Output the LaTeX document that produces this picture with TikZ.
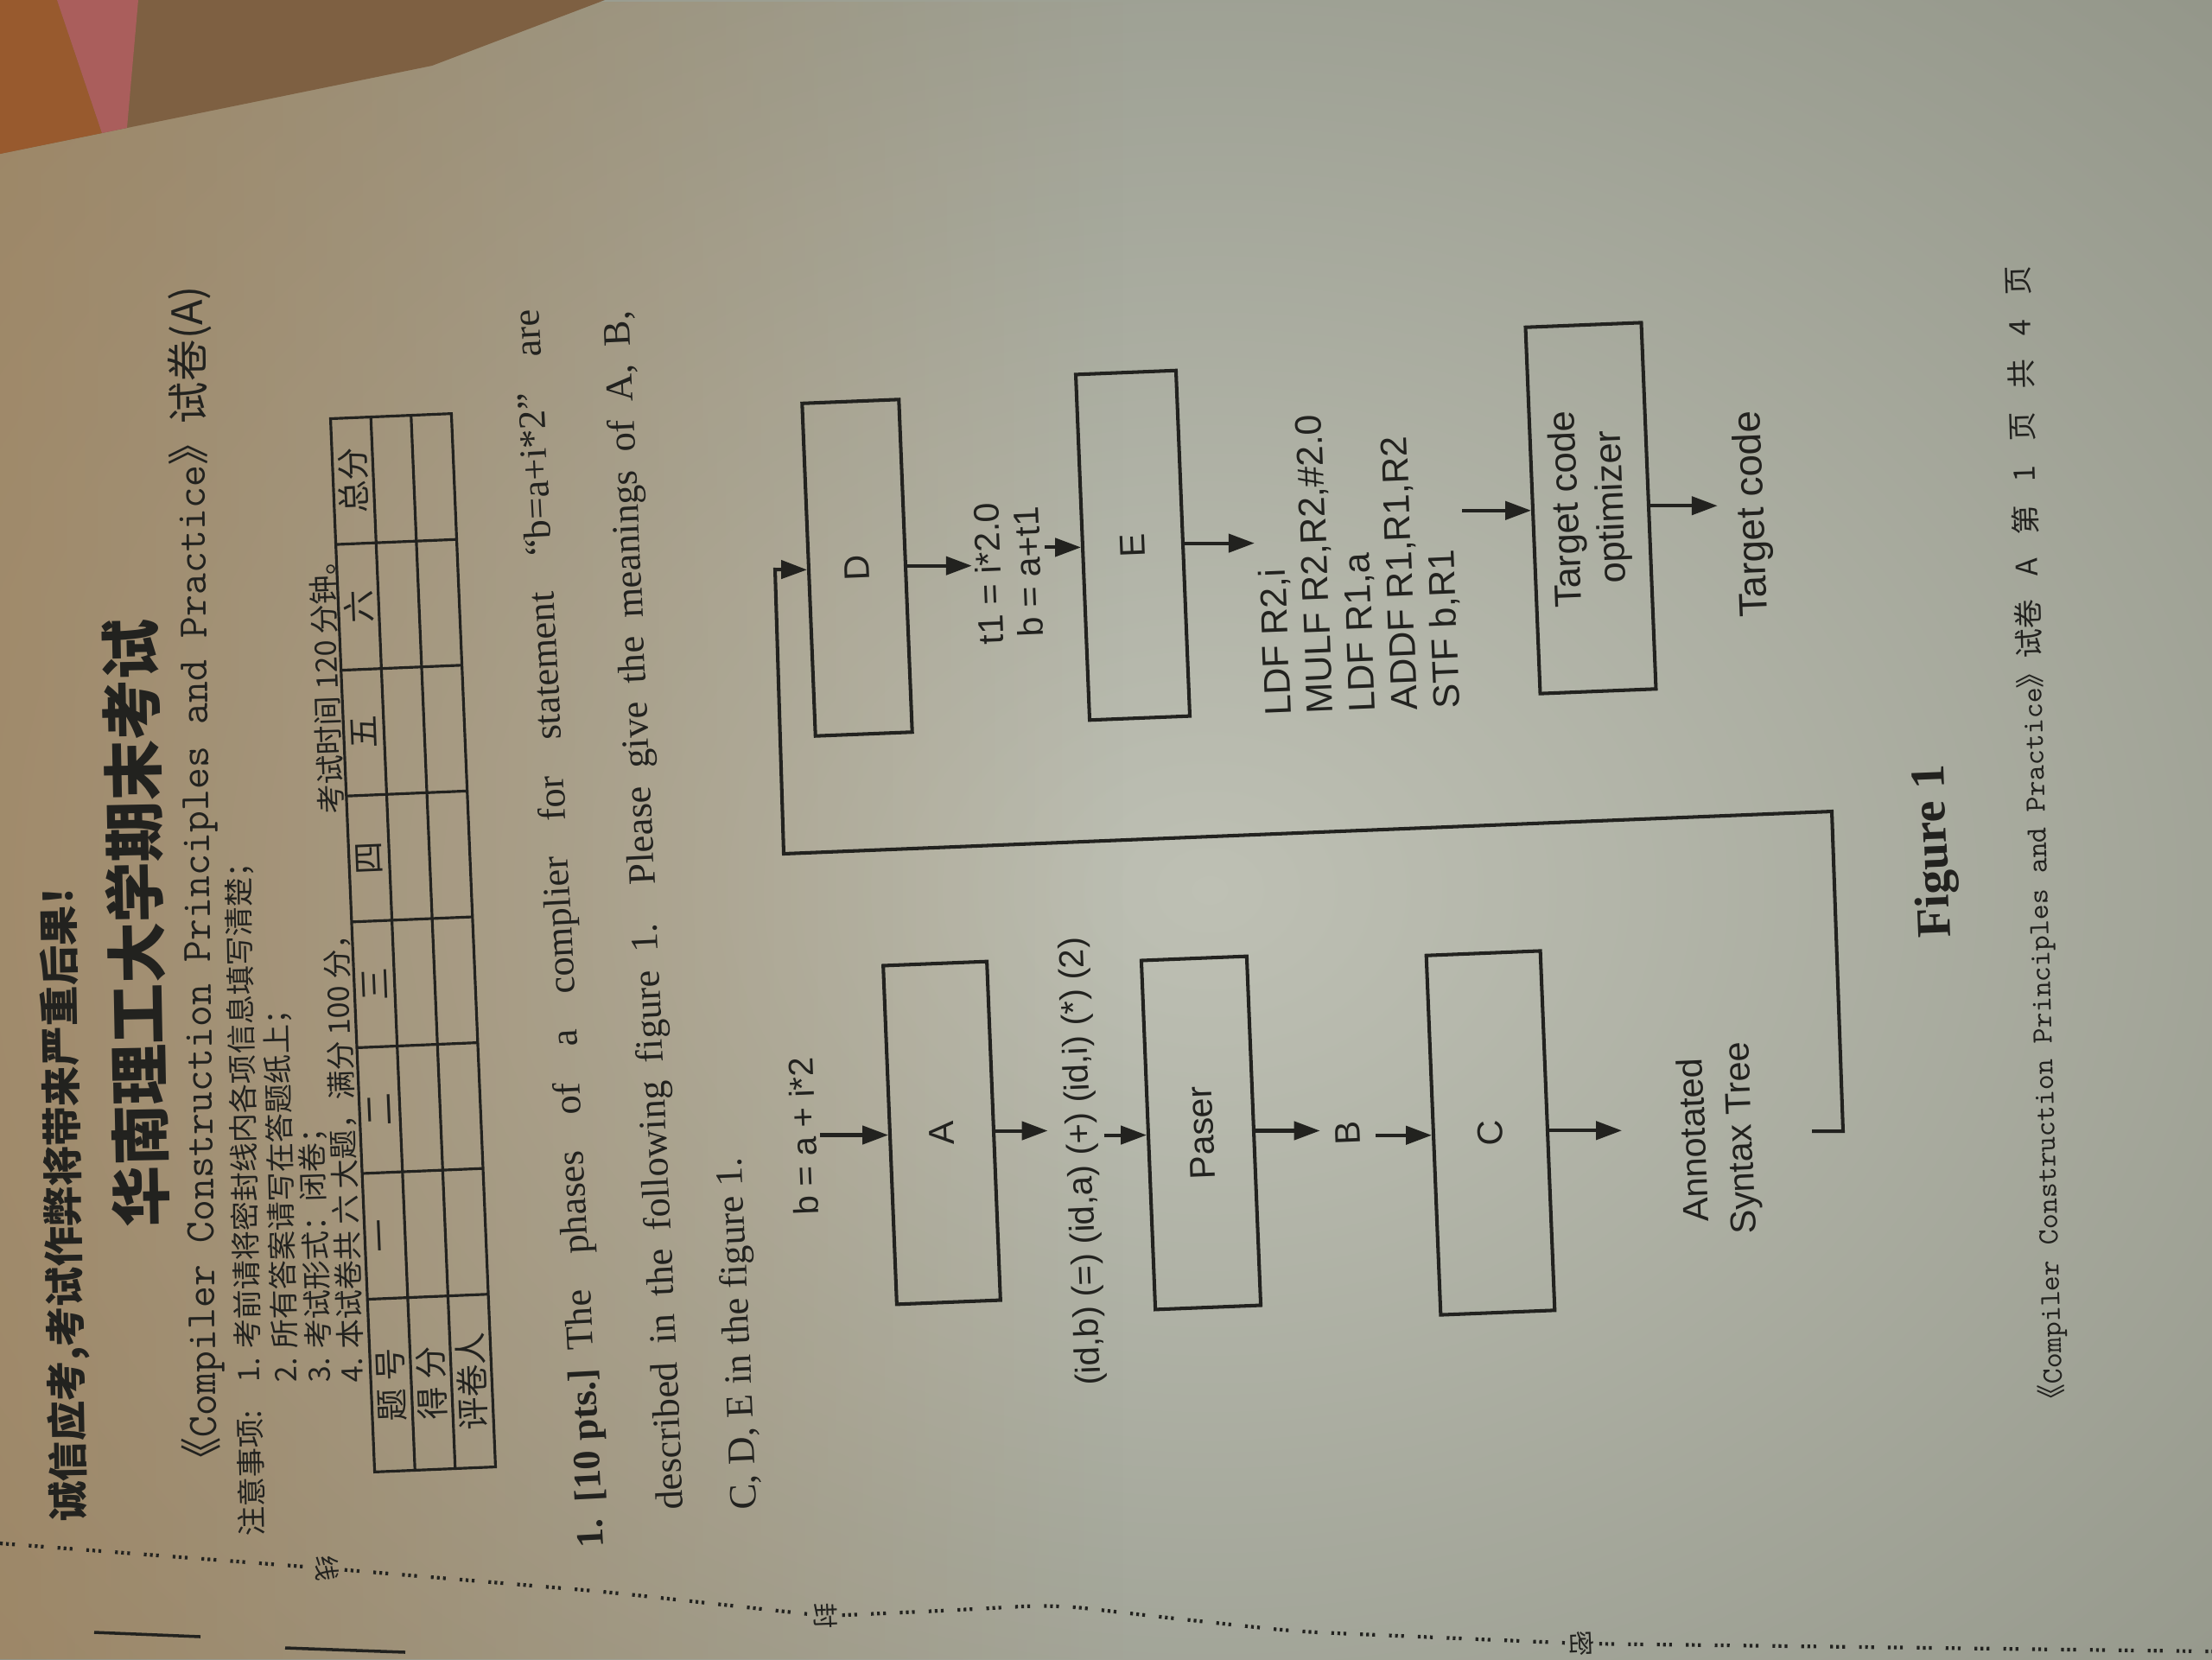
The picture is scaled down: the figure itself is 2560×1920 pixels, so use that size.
\documentclass[tikz,border=0pt]{standalone}
\usepackage{fontspec}
\setmainfont{Liberation Serif}
\newfontfamily\diagsans{Liberation Sans}
\newfontfamily\cjk{Noto Sans CJK SC}
\usetikzlibrary{arrows.meta,fadings}

\definecolor{ink}{RGB}{34,34,31}
\definecolor{paperlight}{RGB}{190,192,180}
\definecolor{paperdark}{RGB}{98,102,88}
\definecolor{warmtone}{RGB}{164,126,82}
\definecolor{cornerbrown}{RGB}{126,96,66}
\definecolor{cornerorange}{RGB}{152,90,46}
\definecolor{cornerpink}{RGB}{170,94,92}

\tikzfading[name=warmfade, left color=transparent!0, right color=transparent!100]

\newcommand\fsz[2]{\fontsize{#1pt}{#2pt}\selectfont}

\begin{document}
\begin{tikzpicture}[x=0.01cm, y=-0.01cm,
  pg/.style={rotate=#1, inner sep=1pt, text=ink}, pg/.default=92.3,
  stagebox/.style 2 args={pg, draw=ink, line width=1.15pt, minimum width=#1, minimum height=#2,
    inner sep=0pt, font=\diagsans\fsz{11.7}{14}},
  lbl/.style={pg, font=\diagsans\fsz{11.7}{14}},
  arr/.style={draw=ink, line width=1.15pt, -{Triangle[length=8.5pt,width=6pt]}},
  tbl/.style={draw=ink, line width=0.9pt},
  note/.style={pg=#1, anchor=west, font=\cjk\fsz{9.7}{12}}, note/.default=91.2,
  cell/.style={pg=92.4, font=\cjk\fsz{10.8}{13}},
  qline/.style={pg=#1, anchor=west, inner sep=0pt, font=\fsz{12.7}{15}}, qline/.default=92.6,
  sealchar/.style={rotate=-87.7, inner sep=1.5pt, text=ink, font=\cjk\fsz{8.5}{10}},
  sealline/.style={draw=ink, line width=1.2pt, rounded corners=10pt,
    dash pattern=on 0.9pt off 1.1pt on 0.9pt off 1.1pt on 0.9pt off 4.6pt}]

% ---------- paper and surroundings ----------
\useasboundingbox (0,0) rectangle (2560,1920);
\begin{scope}
  \clip (0,0) rectangle (2560,1920);
  \fill[paperdark] (0,0) rectangle (2560,1920);
  \shade[inner color=paperlight, outer color=paperdark] (1400,1030) ellipse[x radius=38cm, y radius=30cm];
  \fill[warmtone, path fading=warmfade, fill opacity=0.6] (0,0) rectangle (1300,1920);
  % desk beyond the sheet
  \fill[cornerbrown] (0,0) -- (700,0) -- (500,76) -- (0,178) -- cycle;
  \fill[cornerorange] (0,0) -- (66,0) -- (118,154) -- (0,178) -- cycle;
  \fill[cornerpink] (66,0) -- (160,0) -- (147,148) -- (118,154) -- cycle;
\end{scope}

% ---------- header ----------
\node[pg=91, anchor=west, font=\cjk\bfseries\fsz{13.2}{15}] (warn) at (82,1765)
  {诚信应考,考试作弊将带来严重后果！};
\node[pg=91.1, font=\cjk\bfseries\fsz{20}{24}] (title) at (157,1068) {华南理工大学期末考试};
\node[pg=90.7, anchor=west, font=\fsz{13.8}{16}] (course) at (236,1716)
  {{\cjk 《}{\ttfamily Compiler Construction Principles and Practice}{\cjk 》试卷(A)}};
\node[note] (notehead) at (292,1782) {注意事项:};
\node[note] (note1) at (289,1604) {1. 考前请将密封线内各项信息填写清楚；};
\node[note=91.5] (note2) at (332,1604) {2. 所有答案请写在答题纸上；};
\node[note=91.8] (note3) at (371,1604) {3. 考试形式：闭卷；};
\node[note=92.1] (note4) at (408,1604) {4. 本试卷共 六 大题，满分 100 分，\hspace{3.6em}考试时间 120 分钟。};

% ---------- score table ----------
\begin{scope}[shift={(478,1091)}, rotate=2.4]
  \draw[tbl] (-70,-610) rectangle (70,610);
  \draw[tbl] (-23.3,-610) -- (-23.3,610);
  \draw[tbl] (23.3,-610) -- (23.3,610);
  \foreach \yy in {410,264.3,118.6,-27.1,-172.9,-318.6,-464.3}
    \draw[tbl] (-70,\yy) -- (70,\yy);
  \node[cell] (hq) at (-46.7,510) {题 号};
  \node[cell] (hs) at (0,510) {得 分};
  \node[cell] (hr) at (46.7,510) {评卷人};
  \node[cell] (c1) at (-46.7,337.2) {一};
  \node[cell] (c2) at (-46.7,191.5) {二};
  \node[cell] (c3) at (-46.7,45.8) {三};
  \node[cell] (c4) at (-46.7,-100) {四};
  \node[cell] (c5) at (-46.7,-245.7) {五};
  \node[cell] (c6) at (-46.7,-391.5) {六};
  \node[cell] (c7) at (-46.7,-537.2) {总分};
\end{scope}

% ---------- question ----------
\node[qline=93] (q1) at (688,1792)
  {\makebox[14.34cm][s]{\textbf{1.}\hspace{0.45em}\textbf{[10\hspace{0.25em}pts.]}\hspace{0.5em}The phases of a complier for statement “b=a+i*2” are}};
\node[qline] (q2) at (780,1748)
  {\makebox[13.88cm][s]{described in the following figure 1. Please give the meanings of A, B,}};
\node[qline=92.5] (q3) at (865,1748) {C, D, E in the figure 1.};

% ---------- figure 1: front end chain ----------
\node[lbl, font=\diagsans\fsz{11.4}{14}] (in1) at (930,1315) {b = a + i*2};
\node[stagebox={3.92cm}{1.20cm}] (A) at (1090,1311) {A};
\node[lbl, font=\diagsans\fsz{11.4}{14}, inner sep=1.5pt] (tok) at (1253,1344)
  {(id,b) (=) (id,a) (+) (id,i) (*) (2)};
\node[stagebox={4.04cm}{1.22cm}] (P) at (1390,1311) {Paser};
\node[lbl, inner sep=5pt] (Bl) at (1560,1311) {B};
\node[stagebox={4.16cm}{1.32cm}] (C) at (1725,1311) {C};
\node[pg, align=center, font=\diagsans\fsz{11.8}{15.4}] (AST) at (1990,1318) {Annotated\\Syntax Tree};

% ---------- figure 1: back end chain ----------
\node[stagebox={3.85cm}{1.12cm}] (D) at (992,657) {D};
\node[pg, align=center, font=\diagsans\fsz{11.7}{13.1}] (t1) at (1167,663) {t1 = i*2.0\\b = a+t1};
\node[stagebox={4.00cm}{1.16cm}] (E) at (1311,631) {E};
\node[pg, align=left, font=\diagsans\fsz{12.2}{13.9}] (asm) at (1572,651)
  {LDF R2,i\\MULF R2,R2,\#2.0\\LDF R1,a\\ADDF R1,R1,R2\\STF b,R1};
\node[stagebox={4.24cm}{1.34cm}, align=center, font=\diagsans\fsz{12.4}{14.8}] (Opt) at (1841,588)
  {Target code\\optimizer};
\node[pg, inner ysep=5.5pt, font=\diagsans\fsz{13}{15}] (TC) at (2029,595) {Target code};

% ---------- connectors ----------
\coordinate (cOut) at (1877,1308);
\coordinate (lp1) at (2097,1309);
\coordinate (lp2) at (2133,1309);
\coordinate (lp3) at (2120,939);
\coordinate (lp4) at (907,988);
\coordinate (lp5) at (897,659);

\draw[arr] (in1.south |- A.north) -- (A.north);
\draw[arr, shorten >=4.5pt] (A.south) -- (A.south -| tok.north);
\draw[arr] (tok.south |- P.north) -- (P.north);
\draw[arr] (P.south) -- (P.south -| Bl.north);
\draw[arr] (Bl.south |- C.north) -- (C.north);
\draw[arr] (C.south) -- (C.south -| cOut);
\draw[arr] (lp1) -- (lp2) -- (lp3) -- (lp4) -- (lp5) -- (D.north);
\draw[arr] (D.south) -- (D.south -| t1.north);
\draw[arr] (t1.south |- E.north) -- (E.north);
\draw[arr] (E.south) -- (E.south -| asm.north);
\draw[arr] (asm.south |- Opt.north) -- (Opt.north);
\draw[arr] (Opt.south) -- (Opt.south -| TC.north);

% ---------- caption and footer ----------
\node[pg, font=\bfseries\fsz{16}{18}] (fig) at (2240,985) {Figure 1};
\node[pg=91.7, font=\fsz{9.7}{12}] (foot) at (2357,972)
  {{\cjk 《}{\ttfamily Compiler Construction Principles and Practice}{\cjk 》试卷\hspace{0.8em}A\hspace{0.8em}第\hspace{0.8em}1\hspace{0.8em}页\hspace{0.8em}共\hspace{0.8em}4\hspace{0.8em}页}};

% ---------- binding margin ----------
\node[sealchar] (sealA) at (379,1815) {线};
\node[sealchar] (sealB) at (955,1870) {封};
\node[sealchar] (sealC) at (1831,1902) {密};
\coordinate (dl0) at (0,1786);
\coordinate (dl1) at (700,1842);
\coordinate (dl2) at (1090,1864);
\coordinate (dl3) at (1220,1857);
\coordinate (dl4) at (1360,1873);
\coordinate (dl5) at (1500,1888);
\coordinate (dl6) at (2560,1911);
\draw[sealline] (dl0) -- (sealA);
\draw[sealline] (sealA) -- (dl1) -- (sealB);
\draw[sealline] (sealB) -- (dl2) -- (dl3) -- (dl4) -- (dl5) -- (sealC);
\draw[sealline] (sealC) -- (dl6);
\coordinate (bl1) at (109,1889);
\coordinate (bl2) at (232,1894);
\coordinate (bl3) at (330,1907);
\coordinate (bl4) at (469,1912);
\draw[ink, line width=1pt] (bl1) -- (bl2);
\draw[ink, line width=1pt] (bl3) -- (bl4);
\end{tikzpicture}
\end{document}
